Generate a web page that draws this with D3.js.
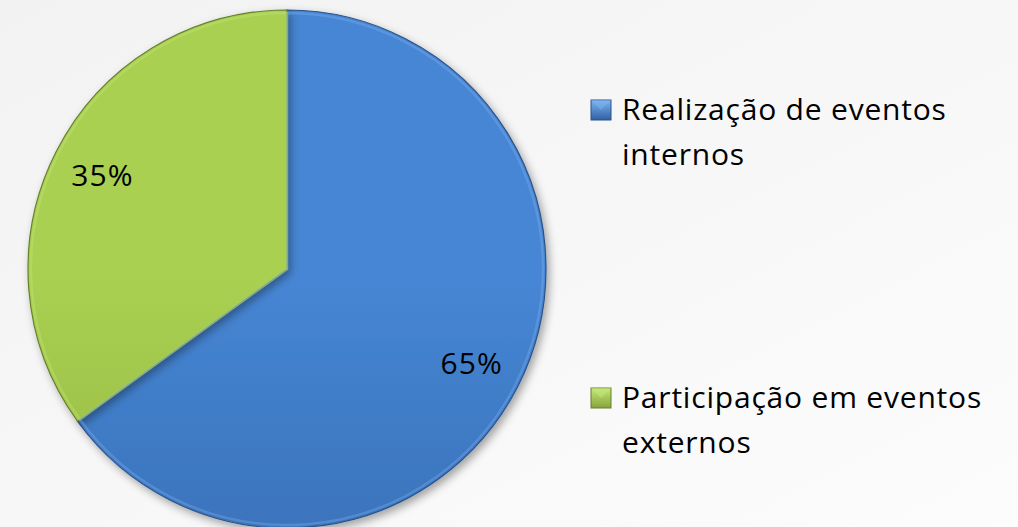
<!DOCTYPE html>
<html>
<head>
<meta charset="utf-8">
<script src="https://cdn.jsdelivr.net/npm/d3@7"></script>
<style>
  html, body { margin: 0; padding: 0; background: #f6f6f6; }
  svg { display: block; }
</style>
</head>
<body>
<div id="chart"></div>
<script>
const categories = ["Realização de eventos internos", "Participação em eventos externos"];
const values = [65, 35];
const valueLabels = ["65%", "35%"];
const legendLines = [["Realização de eventos", "internos"], ["Participação em eventos", "externos"]];

const W = 1018, H = 527;
const cx = 287, cy = 269, R = 259;

const svg = d3.select("#chart").append("svg")
  .attr("width", W).attr("height", H);

const defs = svg.append("defs");

const bg = defs.append("linearGradient").attr("id", "bg")
  .attr("x1", 0).attr("y1", 0).attr("x2", 1).attr("y2", 1);
bg.append("stop").attr("offset", "0%").attr("stop-color", "#f2f2f2");
bg.append("stop").attr("offset", "100%").attr("stop-color", "#fcfcfc");

const palette = [
  { top: "#4686d4", bottom: "#3061a3", stroke: "#2a5288", light: "#7db3f0" },
  { top: "#a9d051", bottom: "#86a43b", stroke: "#66802c", light: "#c5e77a" }
];

palette.forEach((p, i) => {
  const g = defs.append("linearGradient").attr("id", "grad" + i)
    .attr("gradientUnits", "userSpaceOnUse")
    .attr("x1", 0).attr("y1", cy - R).attr("x2", 0).attr("y2", cy + R);
  g.append("stop").attr("offset", "0%").attr("stop-color", p.top);
  g.append("stop").attr("offset", "100%").attr("stop-color", p.bottom);

  const m = defs.append("linearGradient").attr("id", "mk" + i)
    .attr("x1", 0).attr("y1", 0).attr("x2", 0).attr("y2", 1);
  m.append("stop").attr("offset", "0%").attr("stop-color", p.light);
  m.append("stop").attr("offset", "100%").attr("stop-color", p.bottom);
});

const shadow = defs.append("filter").attr("id", "shadow")
  .attr("x", "-10%").attr("y", "-10%").attr("width", "120%").attr("height", "120%");
shadow.append("feDropShadow").attr("dx", 3).attr("dy", 4).attr("stdDeviation", 4)
  .attr("flood-color", "#000").attr("flood-opacity", 0.35);

svg.append("rect").attr("width", W).attr("height", H).attr("fill", "url(#bg)");

const pie = d3.pie().sort(null).value(d => d);
const arcs = pie(values);

const arc = d3.arc().innerRadius(0).outerRadius(R);
const innerArc = d3.arc().innerRadius(0).outerRadius(R - 3);
const labelArc = d3.arc().innerRadius(R * 0.8).outerRadius(R * 0.8);

const g = svg.append("g").attr("transform", `translate(${cx},${cy})`);

g.selectAll("path.slice").data(arcs).enter().append("path")
  .attr("class", "slice")
  .attr("d", arc)
  .attr("fill", (d, i) => `url(#grad${i})`)
  .attr("stroke", (d, i) => palette[i].stroke)
  .attr("stroke-width", 1.2)
  .attr("filter", "url(#shadow)");

// subtle bevel highlight along slice edges
g.selectAll("path.bevel").data(arcs).enter().append("path")
  .attr("class", "bevel")
  .attr("d", innerArc)
  .attr("fill", "none")
  .attr("stroke", (d, i) => palette[i].light)
  .attr("stroke-opacity", 0.35)
  .attr("stroke-width", 2.5);

g.selectAll("text.pct").data(arcs).enter().append("text")
  .attr("class", "pct")
  .attr("transform", d => `translate(${labelArc.centroid(d)})`)
  .attr("text-anchor", "middle")
  .attr("dy", "0.36em")
  .attr("font-family", "'Open Sans', sans-serif")
  .attr("font-size", 30)
  .attr("letter-spacing", 1)
  .attr("fill", "#000")
  .text((d, i) => valueLabels[i]);

// legend
const legendY = [100, 388];
const leg = svg.append("g");
categories.forEach((c, i) => {
  const lg = leg.append("g").attr("transform", `translate(591,${legendY[i]})`);
  lg.append("rect").attr("width", 20).attr("height", 20)
    .attr("fill", `url(#mk${i})`)
    .attr("stroke", palette[i].stroke).attr("stroke-width", 1);
  lg.append("path").attr("d", "M0,0 L10,10 L20,0 Z")
    .attr("fill", palette[i].light).attr("opacity", 0.5);
  const t = lg.append("text")
    .attr("x", 31).attr("y", 20)
    .attr("font-family", "'Open Sans', sans-serif")
    .attr("font-size", 30)
    .attr("letter-spacing", 0.8)
    .attr("fill", "#000");
  legendLines[i].forEach((line, j) => {
    t.append("tspan").attr("x", 31).attr("dy", j === 0 ? 0 : 45).text(line);
  });
});
</script>
</body>
</html>
